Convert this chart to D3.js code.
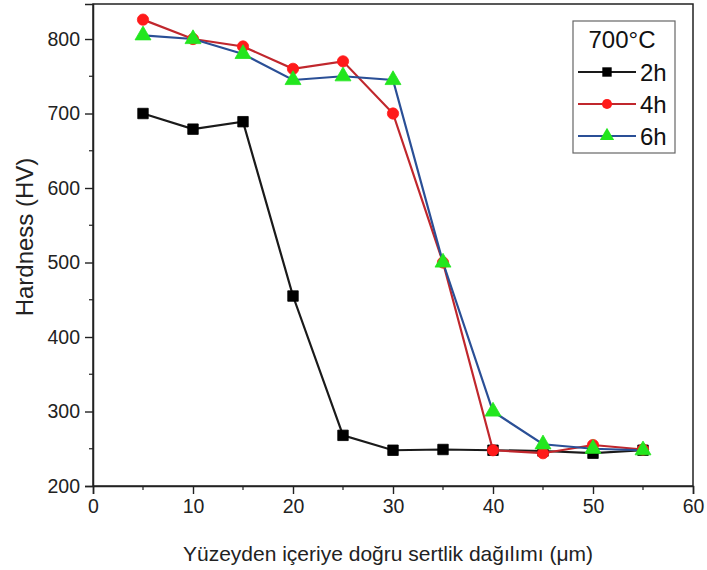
<!DOCTYPE html>
<html>
<head>
<meta charset="utf-8">
<script src="https://cdn.jsdelivr.net/npm/d3@7/dist/d3.min.js"></script>
<style>
  html, body { margin: 0; padding: 0; background: #fff; }
  svg { display: block; font-family: "Liberation Sans", Arial, sans-serif; }
</style>
</head>
<body>
<svg id="chart" width="707" height="570"></svg>
<script>
// Hardness profile from the surface inward, treated at 700 °C
const depths = [5, 10, 15, 20, 25, 30, 35, 40, 45, 50, 55];
const hardness2h = [700, 679, 689, 455, 268, 248, 249, 248, 247, 244, 248];
const hardness4h = [826, 800, 790, 760, 770, 700, 500, 248, 244, 255, 249];
const hardness6h = [805, 800, 780, 745, 750, 745, 500, 300, 256, 250, 248];
const xTicks = [0, 10, 20, 30, 40, 50, 60];
const yTicks = [200, 300, 400, 500, 600, 700, 800];
const legendTitle = "700°C";
const seriesNames = ["2h", "4h", "6h"];

const series = [
  { name: seriesNames[0], values: hardness2h, line: "#1a1a1a", fill: "#000000", shape: d3.symbolSquare, size: 110 },
  { name: seriesNames[1], values: hardness4h, line: "#c0272d", fill: "#ff1a1a", shape: d3.symbolCircle, size: 100 },
  { name: seriesNames[2], values: hardness6h, line: "#2a4f96", fill: "#22e61e", shape: d3.symbolTriangle, size: 110 }
];

const svg = d3.select("#chart");
const plotL = 93, plotR = 693, plotT = 4, plotB = 486;

const x = d3.scaleLinear().domain([0, 60]).range([plotL, plotR]);
const y = d3.scaleLinear().domain([200, 847]).range([plotB, plotT]);

// frame
svg.append("rect")
  .attr("x", plotL).attr("y", plotT)
  .attr("width", plotR - plotL).attr("height", plotB - plotT)
  .attr("fill", "none").attr("stroke", "#222").attr("stroke-width", 1.5);

// minor ticks
const xMinor = d3.range(5, 60, 10);
const yMinor = d3.range(250, 850, 100);
svg.append("g").selectAll("line").data(xMinor).join("line")
  .attr("x1", d => x(d)).attr("x2", d => x(d))
  .attr("y1", plotB).attr("y2", plotB + 4)
  .attr("stroke", "#222").attr("stroke-width", 1.2);
svg.append("g").selectAll("line").data(yMinor).join("line")
  .attr("y1", d => y(d)).attr("y2", d => y(d))
  .attr("x1", plotL).attr("x2", plotL - 4)
  .attr("stroke", "#222").attr("stroke-width", 1.2);

// axes
const xAxis = svg.append("g").attr("transform", `translate(0,${plotB})`)
  .call(d3.axisBottom(x).tickValues(xTicks).tickSize(8).tickPadding(5).tickFormat(d3.format("d")));
const yAxis = svg.append("g").attr("transform", `translate(${plotL},0)`)
  .call(d3.axisLeft(y).tickValues(yTicks).tickSize(8).tickPadding(5).tickFormat(d3.format("d")));
[xAxis, yAxis].forEach(g => {
  g.select(".domain").attr("stroke", "#222").attr("stroke-width", 1.5);
  g.selectAll(".tick line").attr("stroke", "#222").attr("stroke-width", 1.4);
  g.selectAll(".tick text").attr("font-size", 19.5).attr("fill", "#222")
    .attr("font-family", "'Liberation Sans', Arial, sans-serif");
});

// axis titles
svg.append("text")
  .attr("x", 388).attr("y", 561)
  .attr("text-anchor", "middle").attr("font-size", 21).attr("fill", "#222")
  .text("Yüzeyden içeriye doğru sertlik dağılımı (μm)");
svg.append("text")
  .attr("transform", `translate(33,237) rotate(-90)`)
  .attr("text-anchor", "middle").attr("font-size", 24).attr("fill", "#222")
  .text("Hardness (HV)");

// series
const line = d3.line().x((d, i) => x(depths[i])).y(d => y(d));
series.forEach(s => {
  svg.append("path")
    .datum(s.values)
    .attr("d", line)
    .attr("fill", "none").attr("stroke", s.line).attr("stroke-width", 2.2);
});
series.forEach(s => {
  svg.append("g").selectAll("path").data(s.values).join("path")
    .attr("transform", (d, i) => `translate(${x(depths[i])},${y(d)})`)
    .attr("d", d3.symbol().type(s.shape).size(s.size))
    .attr("fill", s.fill).attr("stroke", s.fill).attr("stroke-width", 0.8);
});

// legend
const lg = svg.append("g");
lg.append("rect")
  .attr("x", 573).attr("y", 21).attr("width", 102).attr("height", 132)
  .attr("fill", "#fff").attr("stroke", "#666").attr("stroke-width", 1.2);
lg.append("text")
  .attr("x", 622).attr("y", 48).attr("text-anchor", "middle")
  .attr("font-size", 24).attr("fill", "#111").text(legendTitle);
series.forEach((s, i) => {
  const ly = 72 + i * 32;
  lg.append("line")
    .attr("x1", 578).attr("x2", 636).attr("y1", ly).attr("y2", ly)
    .attr("stroke", s.line).attr("stroke-width", 2.2);
  lg.append("path")
    .attr("transform", `translate(607,${ly})`)
    .attr("d", d3.symbol().type(s.shape).size(s.size * 0.8))
    .attr("fill", s.fill);
  lg.append("text")
    .attr("x", 640).attr("y", ly + 9)
    .attr("font-size", 24).attr("fill", "#111").text(s.name);
});
</script>
</body>
</html>
